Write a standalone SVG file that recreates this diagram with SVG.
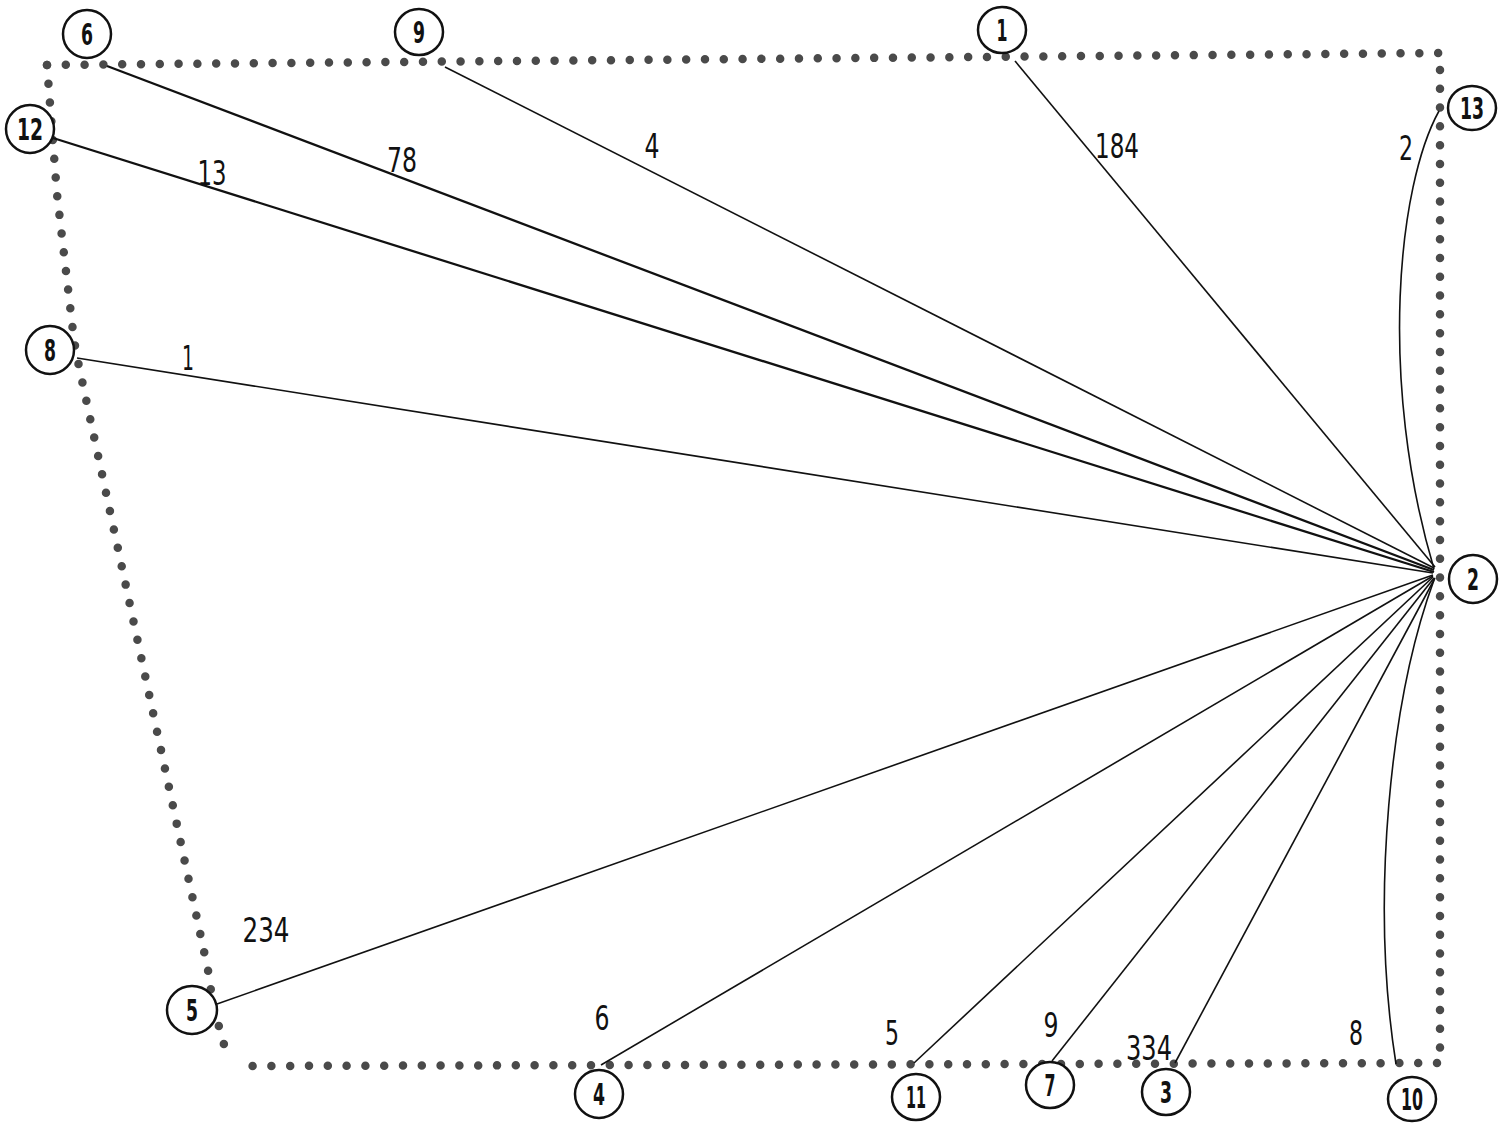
<svg xmlns="http://www.w3.org/2000/svg" width="1506" height="1124" viewBox="0 0 1506 1124">
<style>
.bg{fill:#fff}
.dots{fill:none;stroke:#4a4a4a;stroke-width:8.5;stroke-linecap:round;stroke-dasharray:0 18.8}
.edge{fill:none;stroke:#111;stroke-width:1.6}
.thick{stroke-width:2.3}
.node ellipse{fill:#fff;stroke:#111;stroke-width:2.5}
.node text{font-family:"Liberation Sans Narrow","DejaVu Sans Condensed","Liberation Sans",sans-serif;font-weight:bold;font-size:30px;fill:#111;text-anchor:middle}
.lbl{font-family:"Liberation Sans Narrow","DejaVu Sans Condensed","Liberation Sans",sans-serif;font-size:33px;fill:#111;text-anchor:middle}
</style>
<rect class="bg" x="0" y="0" width="1506" height="1124"/>
<g id="boundary">
<path class="dots" d="M47,65 L1440,53 L1440,1062"/>
<path class="dots" d="M1437,1063 L248,1066"/>
<path class="dots" d="M47,65 L57,194 L74,340 L77,357 L208,970 L213,1005 L228,1059"/>
</g>
<g id="connectors">
<line class="edge thick" x1="107" y1="66" x2="1434" y2="570"/>
<line class="edge" x1="445" y1="67" x2="1434" y2="568"/>
<line class="edge" x1="1015" y1="61" x2="1435" y2="567"/>
<line class="edge thick" x1="53" y1="138" x2="1434" y2="572"/>
<line class="edge" x1="77" y1="358" x2="1433" y2="573"/>
<path class="edge" d="M1439,111 C1398,185 1378,380 1434,569"/>
<line class="edge" x1="217" y1="1004" x2="1433" y2="575"/>
<line class="edge" x1="601" y1="1065" x2="1433" y2="576"/>
<line class="edge" x1="914" y1="1063" x2="1433" y2="577"/>
<line class="edge" x1="1052" y1="1061" x2="1434" y2="578"/>
<line class="edge" x1="1175" y1="1063" x2="1435" y2="578"/>
<path class="edge" d="M1434,580 C1390,700 1370,900 1396,1064"/>
<text class="lbl" x="402" y="172" textLength="30" lengthAdjust="spacingAndGlyphs">78</text>
<text class="lbl" x="652" y="158" textLength="15" lengthAdjust="spacingAndGlyphs">4</text>
<text class="lbl" x="1117" y="158" textLength="44" lengthAdjust="spacingAndGlyphs">184</text>
<text class="lbl" x="1406" y="160" textLength="14" lengthAdjust="spacingAndGlyphs">2</text>
<text class="lbl" x="212" y="185" textLength="29" lengthAdjust="spacingAndGlyphs">13</text>
<text class="lbl" x="188" y="370" textLength="12" lengthAdjust="spacingAndGlyphs">1</text>
<text class="lbl" x="266" y="942" textLength="47" lengthAdjust="spacingAndGlyphs">234</text>
<text class="lbl" x="602" y="1030" textLength="15" lengthAdjust="spacingAndGlyphs">6</text>
<text class="lbl" x="892" y="1045" textLength="14" lengthAdjust="spacingAndGlyphs">5</text>
<text class="lbl" x="1051" y="1037" textLength="15" lengthAdjust="spacingAndGlyphs">9</text>
<text class="lbl" x="1149" y="1060" textLength="46" lengthAdjust="spacingAndGlyphs">334</text>
<text class="lbl" x="1356" y="1045" textLength="14" lengthAdjust="spacingAndGlyphs">8</text>
</g>
<g id="node-6" class="node"><ellipse cx="87" cy="34" rx="24" ry="24"/><text x="87" y="45" textLength="12" lengthAdjust="spacingAndGlyphs">6</text></g>
<g id="node-9" class="node"><ellipse cx="419" cy="32" rx="24" ry="23"/><text x="419" y="43" textLength="12" lengthAdjust="spacingAndGlyphs">9</text></g>
<g id="node-1" class="node"><ellipse cx="1002" cy="30" rx="24" ry="23"/><text x="1002" y="41" textLength="11" lengthAdjust="spacingAndGlyphs">1</text></g>
<g id="node-13" class="node"><ellipse cx="1472" cy="108" rx="24" ry="22"/><text x="1472" y="119" textLength="24" lengthAdjust="spacingAndGlyphs">13</text></g>
<g id="node-12" class="node"><ellipse cx="30" cy="129" rx="24" ry="24"/><text x="30" y="140" textLength="26" lengthAdjust="spacingAndGlyphs">12</text></g>
<g id="node-8" class="node"><ellipse cx="50" cy="350" rx="24" ry="24"/><text x="50" y="361" textLength="12" lengthAdjust="spacingAndGlyphs">8</text></g>
<g id="node-2" class="node"><ellipse cx="1473" cy="579" rx="24" ry="24"/><text x="1473" y="590" textLength="12" lengthAdjust="spacingAndGlyphs">2</text></g>
<g id="node-5" class="node"><ellipse cx="192" cy="1010" rx="25" ry="24"/><text x="192" y="1021" textLength="12" lengthAdjust="spacingAndGlyphs">5</text></g>
<g id="node-4" class="node"><ellipse cx="599" cy="1094" rx="24" ry="24"/><text x="599" y="1105" textLength="12" lengthAdjust="spacingAndGlyphs">4</text></g>
<g id="node-11" class="node"><ellipse cx="916" cy="1097" rx="24" ry="23"/><text x="916" y="1108" textLength="20" lengthAdjust="spacingAndGlyphs">11</text></g>
<g id="node-7" class="node"><ellipse cx="1050" cy="1085" rx="24" ry="23"/><text x="1050" y="1096" textLength="11" lengthAdjust="spacingAndGlyphs">7</text></g>
<g id="node-3" class="node"><ellipse cx="1166" cy="1092" rx="24" ry="23"/><text x="1166" y="1103" textLength="12" lengthAdjust="spacingAndGlyphs">3</text></g>
<g id="node-10" class="node"><ellipse cx="1412" cy="1099" rx="24" ry="22"/><text x="1412" y="1110" textLength="22" lengthAdjust="spacingAndGlyphs">10</text></g>
</svg>
